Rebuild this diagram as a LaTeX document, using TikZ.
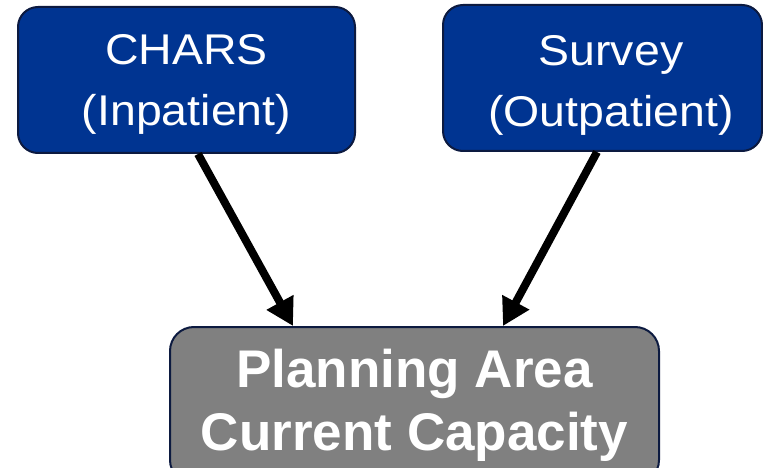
\documentclass[tikz,border=0pt]{standalone}
\usepackage{fontspec}
\setmainfont{Liberation Sans}
\newfontfamily\topfont[FakeStretch=1.08]{Liberation Sans}
\usetikzlibrary{arrows.meta}
\definecolor{boxblue}{RGB}{0,52,145}
\definecolor{boxedge}{RGB}{12,26,64}
\definecolor{boxgray}{RGB}{128,128,128}
\begin{document}
\begin{tikzpicture}[x=1pt,y=-1pt,
  srcbox/.style={draw=boxedge, line width=2pt, fill=boxblue, rounded corners=20pt,
    text=white, align=center, inner sep=0pt,
    font=\topfont\fontsize{43}{61}\selectfont},
  sinkbox/.style={draw=boxedge, line width=2pt, fill=boxgray, rounded corners=24pt,
    text=white, align=center, inner sep=0pt,
    font=\bfseries\fontsize{53}{63}\selectfont},
  flow/.style={line width=8pt, -{Triangle[length=27pt,width=29pt]}}]
\useasboundingbox (0,0) rectangle (763,468);
\clip (0,0) rectangle (763,468);
\node[srcbox, minimum width=337pt, minimum height=146pt] (chars) at (186.5,80)
  {\rule{0pt}{39pt}CHARS\\(Inpatient)};
\node[srcbox, minimum width=319pt, minimum height=146pt] (survey) at (602.5,78)
  {\rule{0pt}{44pt}\hspace*{17pt}Survey\\\hspace*{17pt}(Outpatient)};
\node[sinkbox, minimum width=489pt, minimum height=157pt] (cap) at (414.5,405.5)
  {Planning Area\\Current Capacity};
\draw[flow] ([xshift=11.5pt]chars.south) -- ([xshift=-121.5pt]cap.north);
\draw[flow] ([xshift=-5.5pt]survey.south) -- ([xshift=88.5pt]cap.north);
\end{tikzpicture}
\end{document}
